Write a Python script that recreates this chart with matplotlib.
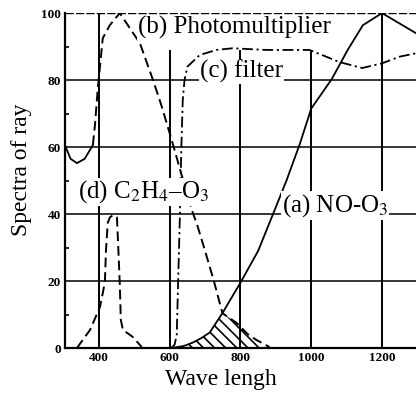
import numpy as np
import matplotlib.pyplot as plt

plt.rcParams['font.family'] = ['Liberation Serif', 'DejaVu Serif']
plt.rcParams['mathtext.fontset'] = 'stix'
plt.rcParams['hatch.linewidth'] = 1.2

# (a) NO-O3 chemiluminescence
wl_a = [605, 640, 665, 690, 713, 749, 800, 850, 894, 930, 968, 1000, 1058, 1103, 1146, 1200, 1296]
val_a = [0, 0.6, 1.6, 3.0, 4.6, 10.4, 19.5, 29, 40.5, 50, 61, 71.5, 80.3, 89, 96.4, 100, 94]

# (b) photomultiplier
wl_b = [304, 320, 338, 360, 383, 389, 397, 411, 431, 459, 516, 553, 578, 606, 634, 665, 677,
        700, 725, 749, 789, 820, 845, 882]
val_b = [60.6, 56.5, 55.2, 56.5, 60.6, 66.6, 77.6, 92.5, 96.4, 100, 91, 80, 72, 62, 51.6, 40.5, 37,
         29, 20, 10.4, 7.5, 4.2, 2.4, 0.3]

# (c) filter
wl_c = [604, 614, 620, 624, 629, 633, 637, 642, 650, 685, 732, 777, 873, 995, 1042, 1079, 1144,
        1200, 1250, 1296]
val_c = [0, 1, 4, 20, 40, 60, 74, 80, 84, 87.5, 89, 89.5, 89, 89, 87, 85.4, 83.6, 85, 87, 88]

# (d) C2H4-O3 chemiluminescence
wl_d = [338, 375, 403, 411, 417, 420, 425, 431, 440, 451, 454, 459, 462, 468, 496, 521]
val_d = [0, 5.4, 12.2, 16.4, 19.7, 29, 37.3, 39, 39.7, 39, 32, 19.4, 8.4, 5.4, 3.3, 0.3]

x_ticks = [400, 600, 800, 1000, 1200]
y_ticks = [0, 20, 40, 60, 80, 100]
vline_top = [100, 89, 89, 89, 100]

fig = plt.figure(figsize=(4.16, 3.97), dpi=100)
ax = fig.add_axes([0.156, 0.1234, 0.844, 0.8436])
ax.set_xlim(304, 1296)
ax.set_ylim(0, 100)

# grid
ax.hlines(y_ticks[1:-1], 304, 1296, color='black', lw=1.1, zorder=1)
ax.hlines(100, 304, 1296, color='black', lw=1.0, linestyles=(0, (6, 1.5)), zorder=1)
ax.vlines(x_ticks, 0, vline_top, color='black', lw=1.4, zorder=1)

# curves
ax.plot(wl_a, val_a, color='black', lw=1.3, zorder=4)
k = wl_b.index(383)
ax.plot(wl_b[:k + 1], val_b[:k + 1], color='black', lw=1.3, zorder=4)
ax.plot(wl_b[k:], val_b[k:], color='black', lw=1.4, ls=(0, (5, 2.5)), zorder=4)
ax.plot(wl_c, val_c, color='black', lw=1.3, ls=(0, (6, 2, 1.2, 2)), zorder=4)
ax.plot(wl_d, val_d, color='black', lw=1.4, ls=(0, (5, 2.5)), zorder=4)

# hatched overlap of (a) and (b)
xs = np.linspace(605, 882, 300)
ys = np.minimum(np.interp(xs, wl_a, val_a), np.interp(xs, wl_b, val_b))
ax.fill_between(xs, 0, ys, facecolor='none', edgecolor='black', hatch='\\\\\\', lw=0, zorder=2)

# labels
box = dict(facecolor='white', edgecolor='none', pad=0.8)
ax.text(510, 95.8, '(b) Photomultiplier', fontsize=18, va='center', ha='left', bbox=box, zorder=5)
ax.text(685, 82.5, '(c) filter', fontsize=18, va='center', ha='left', bbox=box, zorder=5)
ax.text(341, 46.6, '(d) C$_2$H$_4$\u2013O$_3$', fontsize=18, va='center', ha='left', bbox=box, zorder=5)
ax.text(917, 42.5, '(a) NO-O$_3$', fontsize=18, va='center', ha='left', bbox=box, zorder=5)

# axes styling
ax.spines['top'].set_visible(False)
ax.spines['right'].set_visible(False)
ax.spines['left'].set_linewidth(1.6)
ax.spines['bottom'].set_linewidth(1.6)
ax.set_xticks(x_ticks)
ax.set_yticks(y_ticks)
ax.set_yticks([10, 30, 50, 70, 90], minor=True)
ax.tick_params(which='major', length=0, labelsize=9.5, pad=3)
ax.tick_params(axis='y', which='minor', direction='in', length=3, width=1.2)
for lbl in ax.get_xticklabels() + ax.get_yticklabels():
    lbl.set_fontweight('bold')

fig.text(22 / 416, 1 - 170 / 397, 'Spectra of ray', rotation=90, fontsize=17, ha='center', va='center')
fig.text(221 / 416, 1 - 380 / 397, 'Wave lengh', fontsize=17, ha='center', va='center')

fig.savefig('out.png', dpi=100)
